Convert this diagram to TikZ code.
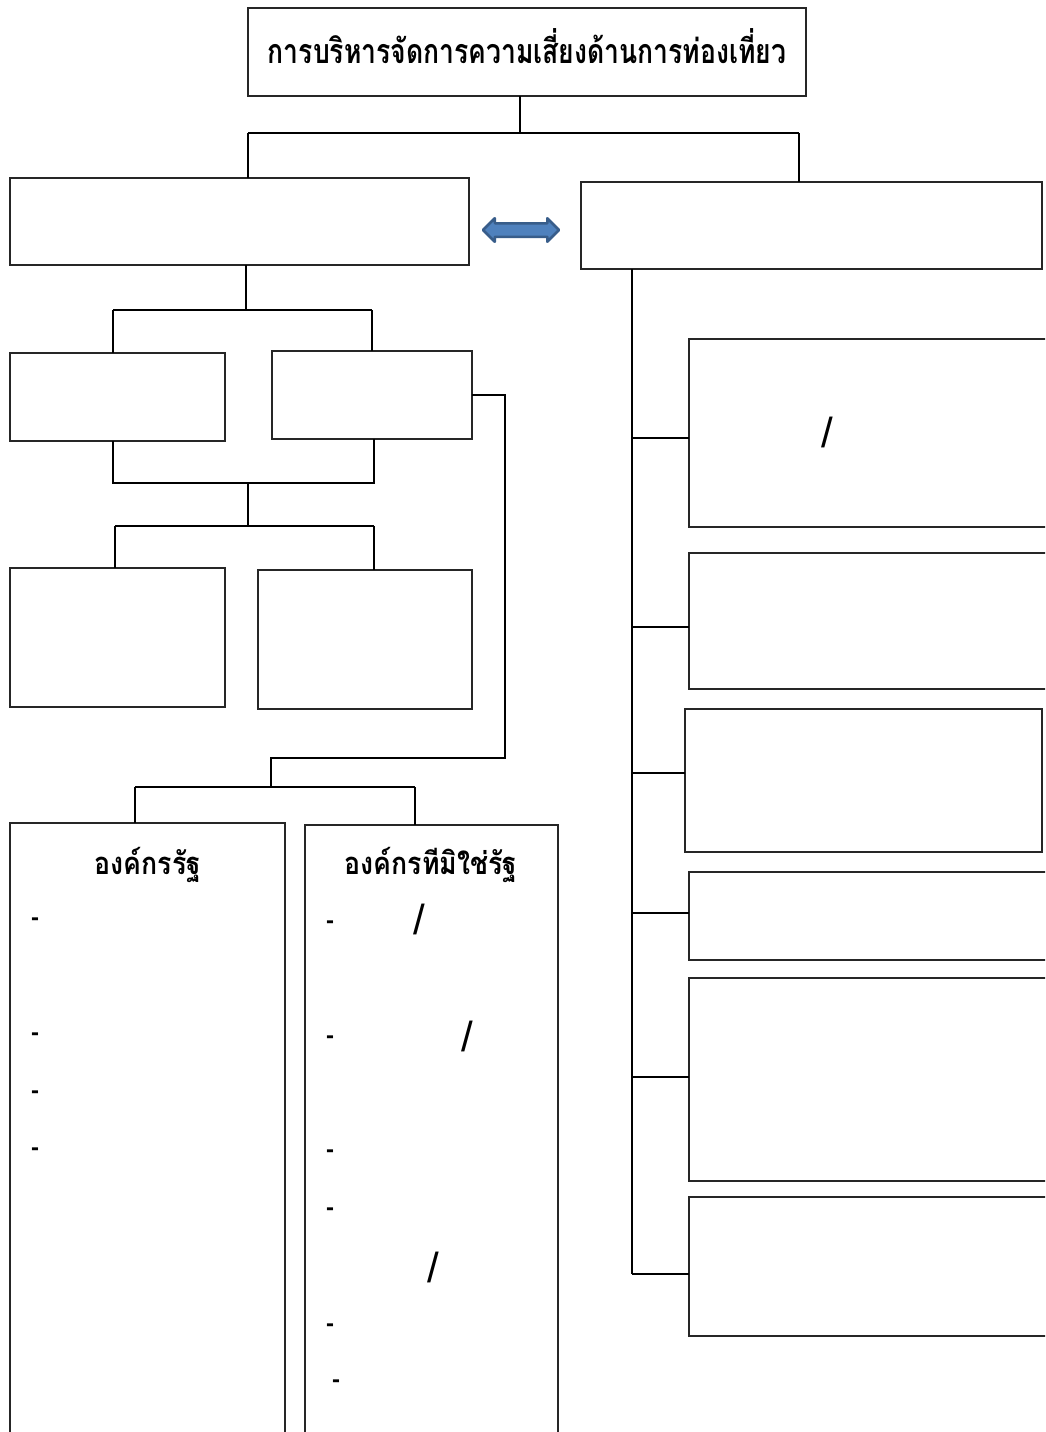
\documentclass[tikz,border=0pt]{standalone}
\usepackage{fontspec}
\usepackage{graphicx}
\newfontfamily\thaifont[Script=Thai]{Loma}
\newfontfamily\lsans{Liberation Sans}
\setmainfont{Liberation Serif}
\usetikzlibrary{shapes.arrows}
\definecolor{arrfill}{RGB}{79,129,189}
\definecolor{arrline}{RGB}{56,93,138}
\begin{document}
\begin{tikzpicture}[x=1pt,y=-1pt,
  box/.style={draw=black!85,line width=1.1pt},
  conn/.style={draw=black,line width=1.3pt},
  ttl/.style={font=\thaifont\bfseries\fontsize{34}{38}\selectfont,inner sep=0pt},
  sub/.style={font=\thaifont\bfseries\fontsize{31}{36}\selectfont,inner sep=0pt},
  dsh/.style={font=\lsans\bfseries\fontsize{24}{24}\selectfont,inner sep=0pt},
  slsh/.style={font=\lsans\fontsize{42}{42}\selectfont,inner sep=0pt}]
\useasboundingbox (0,0) rectangle (1045,1432);
\clip (0,0) rectangle (1045,1432);
\fill[white] (0,0) rectangle (1045,1432);
% boxes
\draw[box] (248,8) rectangle (806,96);
\node[ttl] (title) at (527,46) {\scalebox{0.78}[1]{การบริหารจัดการความเสี่ยงด้านการท่องเที่ยว}};
\draw[box] (10,178) rectangle (469,265);
\draw[box] (581,182) rectangle (1042,269);
\draw[box] (10,353) rectangle (225,441);
\draw[box] (272,351) rectangle (472,439);
\draw[box] (10,568) rectangle (225,707);
\draw[box] (258,570) rectangle (472,709);
\draw[box] (10,823) rectangle (285,1450);
\draw[box] (305,825) rectangle (558,1450);
\draw[box] (689,339) rectangle (1060,527);
\draw[box] (689,553) rectangle (1060,689);
\draw[box] (685,709) rectangle (1042,852);
\draw[box] (689,872) rectangle (1060,960);
\draw[box] (689,978) rectangle (1060,1181);
\draw[box] (689,1197) rectangle (1060,1336);
% connectors top
\draw[conn] (520,96) -- (520,133);
\draw[conn] (248,133) -- (799,133);
\draw[conn] (248,133) -- (248,178);
\draw[conn] (799,133) -- (799,182);
% left tree
\draw[conn] (246,265) -- (246,310);
\draw[conn] (113,310) -- (372,310);
\draw[conn] (113,310) -- (113,353);
\draw[conn] (372,310) -- (372,351);
\draw[conn] (113,441) -- (113,483) -- (374,483) -- (374,439);
\draw[conn] (248,483) -- (248,526);
\draw[conn] (115,526) -- (374,526);
\draw[conn] (115,526) -- (115,568);
\draw[conn] (374,526) -- (374,570);
\draw[conn] (472,395) -- (505,395) -- (505,758) -- (271,758) -- (271,787);
\draw[conn] (135,787) -- (415,787);
\draw[conn] (135,787) -- (135,823);
\draw[conn] (415,787) -- (415,825);
% right spine
\draw[conn] (632,269) -- (632,1274);
\draw[conn] (632,438) -- (689,438);
\draw[conn] (632,627) -- (689,627);
\draw[conn] (632,773) -- (685,773);
\draw[conn] (632,913) -- (689,913);
\draw[conn] (632,1077) -- (689,1077);
\draw[conn] (632,1274) -- (689,1274);
% double arrow
\node[double arrow, double arrow head extend=5pt, double arrow head indent=0pt,
  fill=arrfill, draw=arrline, line width=2.5pt, line join=round,
  minimum height=76pt, inner xsep=0pt, inner ysep=5.5pt] (dbl) at (521,230) {};
% titles in bottom boxes
\node[sub] (e1) at (148,865) {\scalebox{0.86}[1]{องค์กรรัฐ}};
\node[sub] (f1) at (431,865) {\scalebox{0.86}[1]{องค์กรทีมิใช่รัฐ}};
% dashes
\foreach \y [count=\i] in {922,1037,1095,1152} \node[dsh] (de\i) at (35,\y) {-};
\foreach \x/\y [count=\i] in {330/925,330/1040,330/1154,330/1212,330/1328,336/1384} \node[dsh] (df\i) at (\x,\y) {-};
% slashes
\node[slsh] (s1) at (827,432) {/};
\node[slsh] (s2) at (419,919) {/};
\node[slsh] (s3) at (467,1036) {/};
\node[slsh] (s4) at (433,1267) {/};
\end{tikzpicture}
\end{document}
